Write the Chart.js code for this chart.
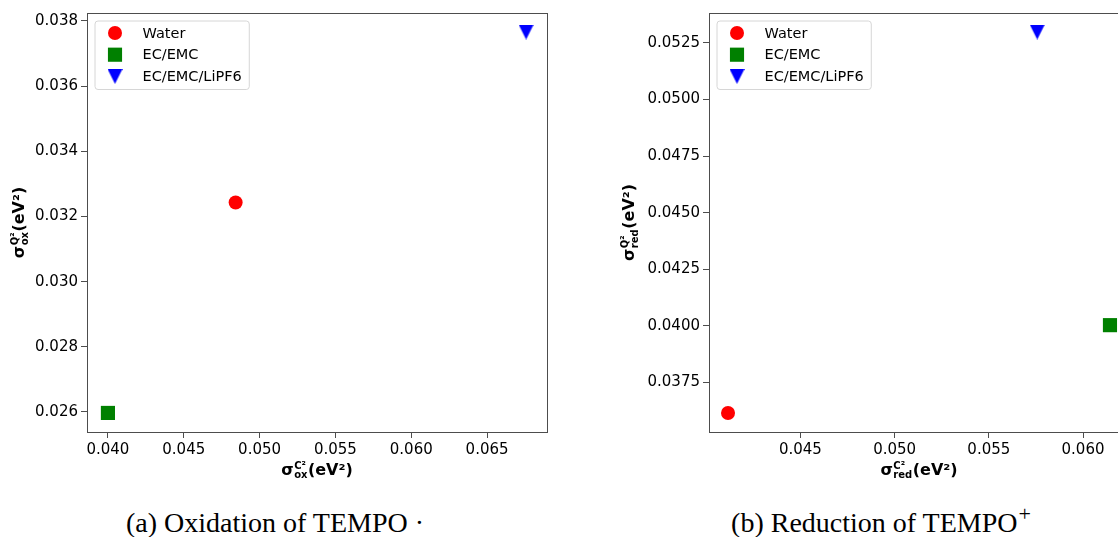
<!DOCTYPE html>
<html>
<head>
<meta charset="utf-8">
<script src="https://cdn.jsdelivr.net/npm/chart.js@4.4.0/dist/chart.umd.min.js"></script>
<style>
  html, body { margin: 0; padding: 0; background: #fff; }
  body { width: 1118px; height: 537px; overflow: hidden; position: relative; }
  .panel { position: absolute; top: 0; }
  .caption {
    position: absolute; top: 509px;
    font-family: "Liberation Serif", serif; font-size: 28px; line-height: 28px;
    white-space: nowrap; color: #000; transform: translateX(-50%);
  }
  .caption sup { font-size: 22px; vertical-align: 0; position: relative; top: -11px; margin-left: 1px; }
</style>
</head>
<body>
<div class="panel" style="left:0"><canvas id="oxChart" width="562" height="490"></canvas></div>
<div class="panel" style="left:600px"><canvas id="redChart" width="542" height="490"></canvas></div>
<div class="caption" style="left:275px">(a) Oxidation of TEMPO ·</div>
<div class="caption" style="left:881px">(b) Reduction of TEMPO<sup>+</sup></div>
<script>
// Series (one point per solvent)
const seriesNames = ['Water', 'EC/EMC', 'EC/EMC/LiPF6'];

// (a) oxidation: sigma_ox^C2 (x) vs sigma_ox^Q2 (y)
const oxC = [0.04842, 0.04000, 0.06757];
const oxQ = [0.03243, 0.02597, 0.03766];

// (b) reduction: sigma_red^C2 (x) vs sigma_red^Q2 (y)
const redC = [0.04116, 0.06143, 0.05757];
const redQ = [0.03615, 0.04003, 0.05298];

// Tick values
const oxXTicks = [0.040, 0.045, 0.050, 0.055, 0.060, 0.065];
const oxYTicks = [0.026, 0.028, 0.030, 0.032, 0.034, 0.036, 0.038];
const redXTicks = [0.045, 0.050, 0.055, 0.060];
const redYTicks = [0.0375, 0.0400, 0.0425, 0.0450, 0.0475, 0.0500, 0.0525];

// Styles
const seriesColors = ['#ff0000', '#008000', '#0000ff'];
const axisColor = '#4d4d4d';
const tickFont = { family: 'DejaVu Sans', size: 15 };

// matplotlib-like downward triangle marker
function triangleDown(size, color) {
  const c = document.createElement('canvas');
  c.width = size;
  c.height = size;
  const g = c.getContext('2d');
  g.fillStyle = color;
  g.beginPath();
  g.moveTo(0, 0);
  g.lineTo(size, 0);
  g.lineTo(size / 2, size);
  g.closePath();
  g.fill();
  return c;
}

const markerStyles = ['circle', 'rect', triangleDown(15, seriesColors[2])];
const markerRadius = [7, 10, 8];

function makeDatasets(xs, ys) {
  return seriesNames.map((name, i) => ({
    label: name,
    data: [{ x: xs[i], y: ys[i] }],
    pointStyle: markerStyles[i],
    pointRadius: markerRadius[i],
    pointHoverRadius: markerRadius[i],
    pointBackgroundColor: seriesColors[i],
    pointBorderColor: seriesColors[i],
    pointBorderWidth: 0
  }));
}

// sigma with stacked super/subscript, then (eV²)
function drawMathLabel(ctx, cx, cy, sup, sub) {
  const big = 'bold 16px "DejaVu Sans"';
  const small = 'bold 10px "DejaVu Sans"';
  ctx.font = big;
  const wS = ctx.measureText('σ').width;
  const wT = ctx.measureText('(eV²)').width;
  ctx.font = small;
  const wScript = Math.max(ctx.measureText(sup).width, ctx.measureText(sub).width);
  let x = cx - (wS + wScript + 1 + wT) / 2;
  ctx.textAlign = 'left';
  ctx.textBaseline = 'alphabetic';
  ctx.fillStyle = '#000';
  ctx.font = big;
  ctx.fillText('σ', x, cy);
  x += wS + 0.5;
  ctx.font = small;
  ctx.fillText(sup, x, cy - 6);
  ctx.fillText(sub, x, cy + 3.5);
  x += wScript + 0.5;
  ctx.font = big;
  ctx.fillText('(eV²)', x, cy);
}

// Frame, axis titles and boxed legend
const framePlugin = {
  id: 'frameAndLabels',
  afterDraw(chart, args, opts) {
    const ctx = chart.ctx;
    const a = chart.chartArea;
    ctx.save();
    ctx.strokeStyle = axisColor;
    ctx.lineWidth = 1;
    ctx.strokeRect(Math.round(a.left) + 0.5, Math.round(a.top) + 0.5,
      Math.round(a.right - a.left), Math.round(a.bottom - a.top));

    // axis titles
    drawMathLabel(ctx, (a.left + a.right) / 2, opts.xTitleY, 'C²', opts.sub);
    ctx.save();
    ctx.translate(opts.yTitleX, (a.top + a.bottom) / 2);
    ctx.rotate(-Math.PI / 2);
    drawMathLabel(ctx, 0, 0, 'Q²', opts.sub);
    ctx.restore();

    // legend box
    const bx = a.left + 7.5, by = a.top + 7.5;
    ctx.font = '14.5px "DejaVu Sans"';
    let tw = 0;
    chart.data.datasets.forEach(d => { tw = Math.max(tw, ctx.measureText(d.label).width); });
    const bw = 48 + tw + 7, bh = 68.5;
    ctx.beginPath();
    ctx.roundRect(bx + 0.5, by + 0.5, bw, bh, 3);
    ctx.fillStyle = 'rgba(255,255,255,0.8)';
    ctx.fill();
    ctx.strokeStyle = '#d6d6d6';
    ctx.stroke();

    chart.data.datasets.forEach((d, i) => {
      const my = a.top + 20 + i * 21.7;
      const mx = a.left + 28;
      const col = d.pointBackgroundColor;
      const st = d.pointStyle;
      ctx.fillStyle = col;
      if (st === 'circle') {
        ctx.beginPath();
        ctx.arc(mx, my, d.pointRadius, 0, Math.PI * 2);
        ctx.fill();
      } else if (st === 'rect') {
        const s = d.pointRadius * Math.SQRT1_2;
        ctx.fillRect(mx - s, my - s, 2 * s, 2 * s);
      } else {
        ctx.drawImage(st, mx - st.width / 2, my - st.height / 2);
      }
      ctx.fillStyle = '#000';
      ctx.textAlign = 'left';
      ctx.textBaseline = 'middle';
      ctx.fillText(d.label, a.left + 55.5, my + 1);
    });
    ctx.restore();
  }
};

function axisOptions(min, max, ticks, decimals, isX, size) {
  return {
    type: 'linear',
    min: min,
    max: max,
    afterBuildTicks: s => { s.ticks = ticks.map(v => ({ value: v })); },
    afterFit: s => { if (isX) s.height = size; else s.width = size; },
    grid: {
      drawOnChartArea: false,
      drawTicks: true,
      tickLength: 6,
      tickColor: axisColor,
      color: axisColor
    },
    border: { display: true, color: axisColor, width: 1 },
    ticks: {
      font: tickFont,
      color: '#000',
      padding: 3,
      autoSkip: false,
      maxRotation: 0,
      callback: v => v.toFixed(decimals)
    }
  };
}

function createScatter(id, xs, ys, xAxis, yAxis, labelOpts, padRight) {
  new Chart(document.getElementById(id), {
    type: 'scatter',
    data: { datasets: makeDatasets(xs, ys) },
    options: {
      responsive: false,
      animation: false,
      layout: { padding: { top: 13, right: padRight, bottom: 0, left: 0 } },
      scales: { x: xAxis, y: yAxis },
      plugins: {
        legend: { display: false },
        tooltip: { enabled: false },
        frameAndLabels: labelOpts
      }
    },
    plugins: [framePlugin]
  });
}

createScatter('oxChart', oxC, oxQ,
  axisOptions(0.03862, 0.06895, oxXTicks, 3, true, 58),
  axisOptions(0.025385, 0.038245, oxYTicks, 3, false, 87),
  { sub: 'ox', xTitleY: 474.5, yTitleX: 24 }, 15);

createScatter('redChart', redC, redQ,
  axisOptions(0.04015, 0.06244, redXTicks, 3, true, 58),
  axisOptions(0.03531, 0.05382, redYTicks, 4, false, 109),
  { sub: 'red', xTitleY: 474.5, yTitleX: 34 }, 13);
</script>
</body>
</html>
